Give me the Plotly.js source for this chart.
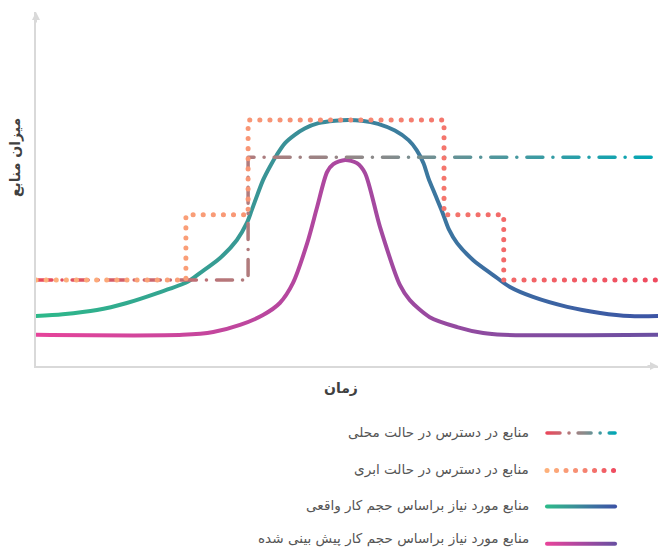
<!DOCTYPE html>
<html>
<head>
<meta charset="utf-8">
<script src="https://cdn.plot.ly/plotly-3.0.1.min.js"></script>
<style>html,body{margin:0;padding:0;background:#fff}#chart{width:659px;height:547px}</style>
</head>
<body>
<div id="chart"></div>
<script>
// ---- data ----
const seriesNames = [
  'منابع در دسترس در حالت محلی',
  'منابع در دسترس در حالت ابری',
  'منابع مورد نیاز براساس حجم کار واقعی',
  'منابع مورد نیاز براساس حجم کار پیش بینی شده'
];
const xTitle = 'زمان';
const yTitle = 'میزان منابع';

const localX = [0, 34.1, 34.1, 100];
const localY = [24.3, 24.3, 59.0, 59.0];

const cloudX = [0, 24.1, 24.1, 34.1, 34.1, 65.6, 65.6, 75.2, 75.2, 100];
const cloudY = [24.3, 24.3, 42.7, 42.7, 69.5, 69.5, 42.7, 42.7, 24.3, 24.3];

const actualX = [0, 4.3, 9.8, 14.6, 19.5, 24.3, 26.4, 29.6, 32.3, 33.9, 34.7, 36.5, 37.6, 38.7, 40.0, 41.6, 43.2, 45.4, 48.1, 50.2, 52.4, 55.0, 57.7, 59.9, 61.2, 62.3, 63.1, 64.2, 65.3, 66.4, 67.7, 70.3, 73.5, 76.2, 79.9, 85.4, 90.7, 95.5, 100];
const actualY = [14.1, 14.6, 15.8, 17.8, 20.6, 23.7, 26.3, 30.5, 35.6, 40.4, 44.1, 52.5, 56.3, 59.6, 62.9, 65.3, 67.1, 68.6, 69.3, 69.5, 69.3, 68.4, 66.5, 63.8, 61.0, 57.3, 53.0, 48.3, 43.6, 38.5, 34.7, 29.9, 25.7, 22.3, 19.5, 16.7, 15.0, 14.1, 14.1];

const predX = [0, 23.6, 28.5, 32.8, 36.5, 39.2, 41.3, 43.6, 45.2, 46.8, 47.8, 49.7, 51.6, 52.9, 55.3, 58.5, 60.1, 63.3, 67.7, 71.9, 75.1, 100];
const predY = [8.8, 8.8, 9.6, 11.6, 14.4, 17.8, 23.4, 34.7, 44.9, 54.8, 57.0, 58.2, 57.3, 54.5, 39.3, 22.9, 18.6, 13.8, 11.0, 9.3, 8.8, 8.8];

// ---- styles ----
const gradStops = [
  [[0, '#e9475b'], [0.33, '#b27a7c'], [0.55, '#8a8a8a'], [1, '#00a7b5']],
  [[0, '#fdb17b'], [0.5, '#f68a73'], [1, '#ef4a5f']],
  [[0, '#2db98a'], [0.4, '#3a9197'], [0.7, '#3c70a1'], [1, '#3c54a5']],
  [[0, '#e6449a'], [0.45, '#b0479f'], [1, '#6a4fa1']]
];
const baseColors = ['#9a8080', '#f68a73', '#3a8f98', '#b0479f'];
const FONT = '"DejaVu Sans", "Noto Sans", sans-serif';

const traces = [
  {x: predX, y: predY, mode: 'lines', line: {color: baseColors[3], width: 4, shape: 'spline', smoothing: 0.8}, name: seriesNames[3]},
  {x: actualX, y: actualY, mode: 'lines', line: {color: baseColors[2], width: 4, shape: 'spline', smoothing: 0.8}, name: seriesNames[2]},
  {x: localX, y: localY, mode: 'lines', line: {color: baseColors[0], width: 3.5, dash: 'dashdot'}, name: seriesNames[0]},
  {x: cloudX, y: cloudY, mode: 'lines', line: {color: baseColors[1], width: 5, dash: 'dot'}, name: seriesNames[1]}
];
const traceGrad = [3, 2, 0, 1];

// legend geometry (paper coords)
const legY = [-0.189, -0.295, -0.397, -0.502];
const legTextY = [-0.187, -0.291, -0.394, -0.487];
const legX0 = 0.8215, legX1 = 0.931, legTextX = 0.7958;
const legDash = ['dashdot', 'dot', 'solid', 'solid'];
const legW = [3.5, 5, 4, 4];

const shapes = [];
const annotations = [];
for (let i = 0; i < 4; i++) {
  shapes.push({type: 'line', xref: 'paper', yref: 'paper', x0: legX0, x1: legX1, y0: legY[i], y1: legY[i],
    line: {color: baseColors[i], width: legW[i], dash: legDash[i]}});
  annotations.push({xref: 'paper', yref: 'paper', x: legTextX, y: legTextY[i], xanchor: 'right', yanchor: 'middle',
    text: seriesNames[i], showarrow: false, font: {family: FONT, size: 13.6, color: '#555555'}});
}
annotations.push({xref: 'paper', yref: 'paper', x: 0.49, y: -0.062, text: '<b>' + xTitle + '</b>', showarrow: false,
  xanchor: 'center', yanchor: 'middle', font: {family: FONT, size: 14, color: '#404040'}});
annotations.push({xref: 'paper', yref: 'paper', x: -0.034, y: 0.59, text: '<b>' + yTitle + '</b>', showarrow: false, textangle: -90,
  xanchor: 'center', yanchor: 'middle', font: {family: FONT, size: 14, color: '#404040'}});
// axis arrows
annotations.push({xref: 'x', yref: 'y', x: 0, y: 100, ax: 0, ay: 12, axref: 'pixel', ayref: 'pixel', text: '', showarrow: true,
  arrowhead: 2, arrowsize: 0.8, arrowwidth: 2, arrowcolor: '#d9d9d9'});
annotations.push({xref: 'x', yref: 'y', x: 100, y: 0, ax: -12, ay: 0, axref: 'pixel', ayref: 'pixel', text: '', showarrow: true,
  arrowhead: 2, arrowsize: 0.8, arrowwidth: 2, arrowcolor: '#d9d9d9'});

const layout = {
  width: 659, height: 547,
  margin: {l: 36, r: 1, t: 12, b: 181},
  paper_bgcolor: '#ffffff', plot_bgcolor: '#ffffff',
  showlegend: false,
  xaxis: {range: [0, 100], showgrid: false, zeroline: false, showticklabels: false, ticks: '',
    showline: true, linecolor: '#d9d9d9', linewidth: 2, fixedrange: true},
  yaxis: {range: [0, 100], showgrid: false, zeroline: false, showticklabels: false, ticks: '',
    showline: true, linecolor: '#d9d9d9', linewidth: 2, fixedrange: true},
  shapes: shapes,
  annotations: annotations,
  font: {family: FONT}
};

const gd = document.getElementById('chart');
Plotly.newPlot(gd, traces, layout, {staticPlot: true, displayModeBar: false}).then(function () {
  const NS = 'http://www.w3.org/2000/svg';
  const svg = gd.querySelector('svg.main-svg');
  let defs = svg.querySelector('defs');
  if (!defs) { defs = document.createElementNS(NS, 'defs'); svg.insertBefore(defs, svg.firstChild); }
  function addGrad(id, x1, x2, stops) {
    const lg = document.createElementNS(NS, 'linearGradient');
    lg.setAttribute('id', id);
    lg.setAttribute('gradientUnits', 'userSpaceOnUse');
    lg.setAttribute('x1', x1); lg.setAttribute('x2', x2);
    lg.setAttribute('y1', 0); lg.setAttribute('y2', 0);
    stops.forEach(function (s) {
      const st = document.createElementNS(NS, 'stop');
      st.setAttribute('offset', s[0]);
      st.setAttribute('stop-color', s[1]);
      lg.appendChild(st);
    });
    defs.appendChild(lg);
  }
  const sz = gd._fullLayout._size;
  for (let i = 0; i < 4; i++) {
    addGrad('tg' + i, 0, sz.w, gradStops[i]);
    addGrad('lg' + i, sz.l + sz.w * legX0, sz.l + sz.w * legX1, gradStops[i]);
  }
  const dashArr = ['16,10,0.1,10', '0.1,10', null, null];
  const legDashArr = ['13,9,0.1,9', '0.1,9.4', null, null];
  const groups = gd.querySelectorAll('.scatterlayer .trace');
  groups.forEach(function (g, k) {
    const gi = traceGrad[k];
    g.querySelectorAll('path.js-line').forEach(function (p) {
      p.style.stroke = 'url(#tg' + gi + ')';
      p.style.strokeLinecap = 'round';
      p.style.strokeLinejoin = 'round';
      if (dashArr[gi]) p.style.strokeDasharray = dashArr[gi];
    });
  });
  const sp = gd.querySelectorAll('.shapelayer path');
  sp.forEach(function (p, i) {
    if (i > 3) return;
    p.style.stroke = 'url(#lg' + i + ')';
    p.style.strokeLinecap = 'round';
    if (legDashArr[i]) p.style.strokeDasharray = legDashArr[i];
  });
});
</script>
</body>
</html>
